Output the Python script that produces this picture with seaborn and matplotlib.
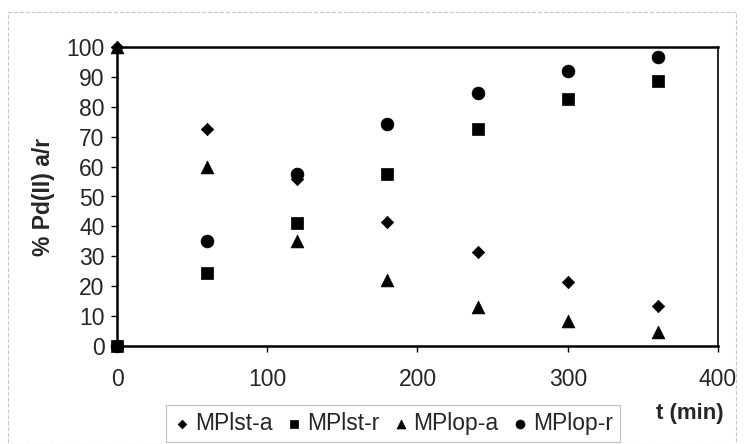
import matplotlib
matplotlib.use("Agg")
import matplotlib.pyplot as plt
import seaborn as sns
import pandas as pd
from matplotlib.patches import Rectangle

t_min = [0, 60, 120, 180, 240, 300, 360]
mplst_a = [100, 72.5, 56, 41.5, 31.5, 21.3, 13.5]
mplst_r = [0, 24.3, 41, 57.5, 72.5, 82.5, 88.5]
mplop_a = [100, 60, 35, 22, 13, 8.5, 4.7]
mplop_r = [0, 35, 57.5, 74.2, 84.5, 92, 96.5]

series = {"MPlst-a": mplst_a, "MPlst-r": mplst_r, "MPlop-a": mplop_a, "MPlop-r": mplop_r}
markers = {"MPlst-a": "D", "MPlst-r": "s", "MPlop-a": "^", "MPlop-r": "o"}
sizes = {"MPlst-a": 40, "MPlst-r": 70, "MPlop-a": 85, "MPlop-r": 85}

df = pd.concat(
    [pd.DataFrame({"t": t_min, "value": v, "series": k}) for k, v in series.items()],
    ignore_index=True,
)

sns.set_style("white")
plt.rcParams["font.family"] = ["Liberation Sans", "DejaVu Sans"]

fig = plt.figure(figsize=(7.44, 4.44), dpi=100)
ax = fig.add_axes([117 / 744, 1 - 346 / 444, 601 / 744, 299 / 444])

for name, grp in df.groupby("series", sort=False):
    sns.scatterplot(data=grp, x="t", y="value", marker=markers[name], s=sizes[name],
                    color="black", edgecolor="black", linewidth=0.5, ax=ax,
                    label=name, clip_on=False, zorder=3)

ax.set_xlim(0, 400)
ax.set_ylim(0, 100)
ax.set_xticks(range(0, 401, 100))
ax.set_yticks(range(0, 101, 10))
ax.tick_params(axis="both", labelsize=16.5, length=4, width=1, direction="out",
               color="black", bottom=True, left=True)
ax.tick_params(axis="x", pad=12)
ax.tick_params(axis="y", pad=5)
for sp in ax.spines.values():
    sp.set_color("black")
    sp.set_linewidth(1.8)
ax.spines["right"].set_linewidth(1.2)
ax.set_xlabel("")
ax.set_ylabel("% Pd(II) a/r", fontsize=16.5, fontweight="bold", labelpad=8)

leg = ax.legend(loc="upper center", ncol=4, frameon=True, fontsize=16.5,
                handletextpad=0.15, columnspacing=0.55, borderpad=0.3, fancybox=False,
                markerscale=0.7, handlelength=0.8)
leg.get_frame().set_edgecolor("#b0b0b0")
leg.get_frame().set_linewidth(0.8)
leg.set_bbox_to_anchor((393 / 744, 1 - 394 / 444), transform=fig.transFigure)

fig.text(690 / 744, 1 - 413 / 444, "t (min)", fontsize=16, fontweight="bold",
         ha="center", va="center")

fig.patches.append(Rectangle((8 / 744, 0.0), 728 / 744, 1 - 12 / 444, transform=fig.transFigure,
                             fill=False, edgecolor="#c8c8c8", linewidth=0.8, linestyle="--"))

fig.savefig("out.png", dpi=100)
